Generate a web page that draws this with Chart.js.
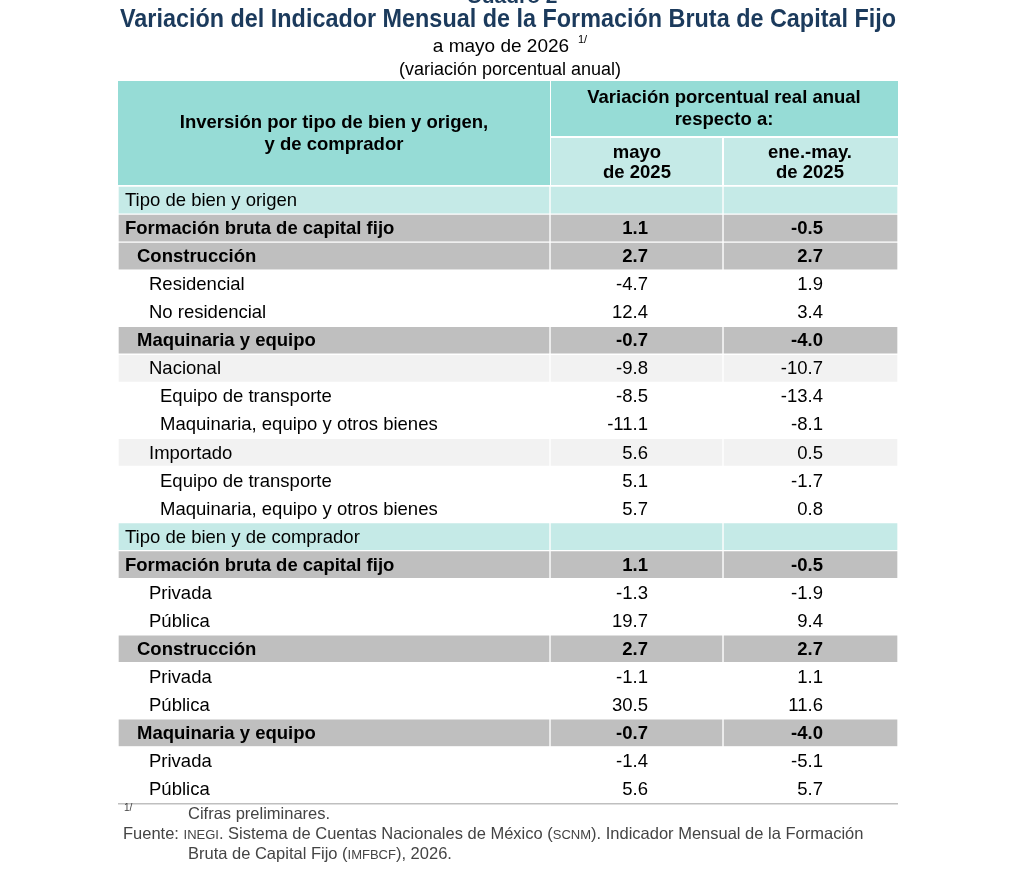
<!DOCTYPE html>
<html>
<head>
<meta charset="utf-8">
<script src="https://cdn.jsdelivr.net/npm/chart.js@4"></script>
<style>
  html, body { margin: 0; padding: 0; background: #fff; }
  #wrap { width: 1024px; height: 872px; }
</style>
</head>
<body>
<div id="wrap"><canvas id="tabla"></canvas></div>
<script>
const rowLabels = [
  "Tipo de bien y origen",
  "Formación bruta de capital fijo",
  "Construcción",
  "Residencial",
  "No residencial",
  "Maquinaria y equipo",
  "Nacional",
  "Equipo de transporte",
  "Maquinaria, equipo y otros bienes",
  "Importado",
  "Equipo de transporte",
  "Maquinaria, equipo y otros bienes",
  "Tipo de bien y de comprador",
  "Formación bruta de capital fijo",
  "Privada",
  "Pública",
  "Construcción",
  "Privada",
  "Pública",
  "Maquinaria y equipo",
  "Privada",
  "Pública",
];
const rowLevels = [0, 0, 1, 2, 2, 1, 2, 3, 3, 2, 3, 3, 0, 0, 2, 2, 1, 2, 2, 1, 2, 2];
const rowKinds = ["sec", "tot", "tot", "", "", "tot", "light", "", "", "light", "", "",
  "sec", "tot", "", "", "tot", "", "", "tot", "", ""];
const mayo2025 = ["", "1.1", "2.7", "-4.7", "12.4", "-0.7", "-9.8", "-8.5", "-11.1", "5.6", "5.1", "5.7",
  "", "1.1", "-1.3", "19.7", "2.7", "-1.1", "30.5", "-0.7", "-1.4", "5.6"];
const eneMay2025 = ["", "-0.5", "2.7", "1.9", "3.4", "-4.0", "-10.7", "-13.4", "-8.1", "0.5", "-1.7", "0.8",
  "", "-0.5", "-1.9", "9.4", "2.7", "1.1", "11.6", "-4.0", "-5.1", "5.7"];

// table geometry (x scale runs in page pixels)
const colEdges = [118, 550, 723, 898];
const indent = [125, 137, 149, 160];
const numRight = [648, 823];

const fillFor = { sec: "#C5EAE7", tot: "#BFBFBF", light: "#F2F2F2", "": "#FFFFFF" };
const FONT = "'Liberation Sans', Arial, sans-serif";

function colData(c) {
  return rowLabels.map(() => [colEdges[c], colEdges[c + 1]]);
}

const columnSets = [0, 1, 2].map((c) => ({
  data: colData(c),
  backgroundColor: rowKinds.map((k) => fillFor[k]),
  borderColor: "#FFFFFF",
  borderWidth: 1,
  borderSkipped: false,
  barPercentage: 1,
  categoryPercentage: 1,
  grouped: false,
}));

function drawText(ctx, text, x, y, font, color, align, maxW) {
  ctx.font = font;
  ctx.fillStyle = color;
  ctx.textAlign = align || "left";
  ctx.textBaseline = "middle";
  if (maxW) ctx.fillText(text, x, y, maxW);
  else ctx.fillText(text, x, y);
}

// line with small-caps style runs: [[text, small], ...]
function drawRuns(ctx, runs, x, y, color) {
  ctx.fillStyle = color;
  ctx.textAlign = "left";
  ctx.textBaseline = "alphabetic";
  runs.forEach(([t, small]) => {
    ctx.font = (small ? "13px " : "16.5px ") + FONT;
    ctx.fillText(t, x, y);
    x += ctx.measureText(t).width;
  });
}

const tablePlugin = {
  id: "tablePlugin",
  beforeDatasetsDraw(chart) {
    const ctx = chart.ctx;
    ctx.save();
    ctx.fillStyle = "#96DCD6";
    ctx.fillRect(118, 81, 432, 104);
    ctx.fillRect(551, 81, 347, 55);
    ctx.fillStyle = "#C5EAE7";
    ctx.fillRect(551, 138, 171, 47);
    ctx.fillRect(724, 138, 174, 47);
    ctx.restore();
  },
  afterDatasetsDraw(chart) {
    const ctx = chart.ctx;
    const y = chart.scales.y;
    ctx.save();
    // titles
    drawText(ctx, "Cuadro 2", 512, -3, "bold 21px " + FONT, "#1B3A5C", "center");
    drawText(ctx, "Variación del Indicador Mensual de la Formación Bruta de Capital Fijo",
      508, 20, "bold 25px " + FONT, "#1B3A5C", "center", 776);
    drawText(ctx, "a mayo de 2026", 501, 47, "19px " + FONT, "#000", "center", 152);
    drawText(ctx, "1/", 578, 40, "11px " + FONT, "#000", "left");
    drawText(ctx, "(variación porcentual anual)", 510, 70, "18px " + FONT, "#000", "center", 238);
    // header text
    const hf = "bold 18.5px " + FONT;
    drawText(ctx, "Inversión por tipo de bien y origen,", 334, 123, hf, "#000", "center", 318);
    drawText(ctx, "y de comprador", 334, 145, hf, "#000", "center");
    drawText(ctx, "Variación porcentual real anual", 724, 98, hf, "#000", "center", 286);
    drawText(ctx, "respecto a:", 724, 120, hf, "#000", "center");
    drawText(ctx, "mayo", 637, 153, hf, "#000", "center");
    drawText(ctx, "de 2025", 637, 173, hf, "#000", "center");
    drawText(ctx, "ene.-may.", 810, 153, hf, "#000", "center");
    drawText(ctx, "de 2025", 810, 173, hf, "#000", "center");
    // rows
    rowLabels.forEach((lab, i) => {
      const cy = y.getPixelForValue(i) + 1;
      const bold = rowKinds[i] === "tot";
      const f = (bold ? "bold 18.5px " : "18.5px ") + FONT;
      drawText(ctx, lab, indent[rowLevels[i]], cy, f, "#000", "left");
      drawText(ctx, mayo2025[i], numRight[0], cy, f, "#000", "right");
      drawText(ctx, eneMay2025[i], numRight[1], cy, f, "#000", "right");
    });
    // bottom rule
    ctx.fillStyle = "#BFBFBF";
    ctx.fillRect(118, chart.chartArea.bottom, 780, 1.5);
    // notes
    drawText(ctx, "1/", 124, 808, "10px " + FONT, "#444", "left");
    drawRuns(ctx, [["Cifras preliminares.", false]], 188, 819, "#444");
    ctx.save();
    drawRuns(ctx, [["Fuente: ", false], ["INEGI", true],
      [". Sistema de Cuentas Nacionales de México (", false], ["SCNM", true],
      ["). Indicador Mensual de la Formación", false]], 123, 839, "#444");
    ctx.restore();
    drawRuns(ctx, [["Bruta de Capital Fijo (", false], ["IMFBCF", true], ["), 2026.", false]],
      188, 859, "#444");
    ctx.restore();
  },
};

new Chart(document.getElementById("tabla"), {
  type: "bar",
  data: { labels: rowLabels.map((l, i) => i), datasets: columnSets },
  options: {
    indexAxis: "y",
    responsive: true,
    maintainAspectRatio: false,
    animation: false,
    layout: { padding: { left: 118, right: 126, top: 186, bottom: 69 } },
    plugins: { legend: { display: false }, tooltip: { enabled: false } },
    scales: {
      x: { type: "linear", min: 118, max: 898, display: false },
      y: { type: "category", display: false, offset: true },
    },
  },
  plugins: [tablePlugin],
});
</script>
</body>
</html>
